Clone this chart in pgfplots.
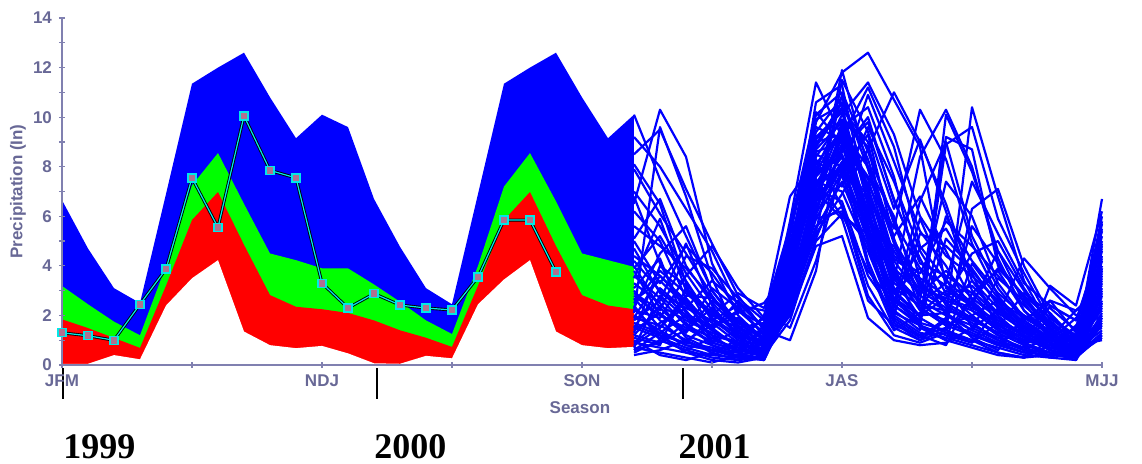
\documentclass[border=0pt]{standalone}
\usepackage{fontspec}
\setmainfont{Liberation Serif}
\newfontfamily\chartfont{Liberation Sans}
\usepackage{pgfplots}
\usepackage{pgfplotstable}
\pgfplotsset{compat=1.18}

\definecolor{axisgray}{RGB}{128,128,176}
\definecolor{labelgray}{RGB}{104,104,150}
\definecolor{tracecyan}{RGB}{0,232,232}
\definecolor{markfill}{RGB}{176,112,144}

% climatology bands, one row per month (0 = JFM 1999)
\pgfplotstableread{
m  lower red  green blue
0  0.05  1.84 3.19  6.65
1  0.05  1.49 2.45  4.70
2  0.40  1.09 1.75  3.10
3  0.23  0.69 1.20  2.50
4  2.40  3.20 4.00  6.90
5  3.50  5.85 7.25  11.35
6  4.23  6.98 8.55  12.00
7  1.35  4.85 6.50  12.60
8  0.80  2.82 4.50  10.80
9  0.68  2.35 4.23  9.15
10 0.77  2.25 3.90  10.10
11 0.47  2.10 3.90  9.60
12 0.07  1.80 3.25  6.70
13 0.05  1.40 2.55  4.77
14 0.37  1.10 1.80  3.10
15 0.27  0.73 1.25  2.45
16 2.45  3.20 4.00  6.90
17 3.45  5.85 7.20  11.35
18 4.23  6.98 8.55  12.00
19 1.35  4.80 6.60  12.60
20 0.80  2.82 4.50  10.80
21 0.68  2.40 4.23  9.15
22 0.73  2.25 3.96  10.10
}\bands

% observed seasonal totals
\pgfplotstableread{
m  obs
0  1.30
1  1.18
2  1.00
3  2.45
4  3.87
5  7.55
6  5.55
7  10.05
8  7.85
9  7.55
10 3.30
11 2.30
12 2.88
13 2.42
14 2.30
15 2.22
16 3.55
17 5.85
18 5.85
19 3.75
}\observed

% ensemble traces, one row per member, months 22..40
\pgfplotstableread{
m   22   23   24   25   26   27   28   29   30   31   32   33   34   35   36   37   38   39   40
t1  10.1 7.5  5.2  3.0  1.6  0.8  3.5  7.8  9.5  6.2  3.1  2.4  2.2  1.9  1.2  0.6  0.5  0.4  2.5
t2  6.5  10.3 8.4  4.1  2.0  1.0  4.2  8.9  10.6 8.3  5.0  3.2  2.6  2.2  1.6  1.0  0.8  0.6  3.0
t3  2.1  9.6  6.8  3.5  1.2  0.5  2.8  6.4  8.1  5.3  2.7  1.8  5.1  3.9  2.4  1.5  0.9  0.5  1.8
t4  1.2  2.4  1.8  1.3  0.9  0.6  4.4  9.8  11.8 12.6 10.7 8.8  3.1  2.5  1.7  1.2  0.7  0.5  4.2
t5  0.8  1.5  2.6  1.0  0.7  0.4  3.1  7.2  8.9  6.0  2.2  1.4  10.1 7.8  4.6  2.5  1.2  0.7  6.7
t6  3.3  2.5  1.1  0.6  0.3  0.3  2.2  5.5  7.4  4.8  1.8  1.1  1.9  10.4 6.8  3.4  1.5  0.3  1.2
t7  2.5  3.8  2.9  2.0  1.5  0.9  5.8  11.4 9.2  7.1  4.3  3.5  2.8  3.2  2.1  1.4  1.0  0.8  5.5
t8  4.2  3.0  2.0  1.2  0.5  0.2  2.6  6.0  11.5 9.4  6.3  9.1  6.2  3.0  2.0  1.1  0.6  0.3  2.0
t9  1.5  1.1  0.7  0.4  0.3  0.5  3.0  6.8  7.9  4.0  1.5  1.0  1.4  2.6  3.9  2.8  1.9  1.2  3.4
t10 5.6  4.8  3.9  2.7  1.8  1.1  4.6  8.4  9.9  7.2  3.6  2.3  1.6  1.2  0.9  0.7  0.4  0.3  1.6
t11 0.6  0.9  1.4  2.3  1.2  0.8  3.8  7.6  8.7  9.8  6.7  4.1  3.6  2.9  1.8  1.3  0.9  0.6  4.6
t12 2.8  2.0  1.5  0.9  0.6  0.4  2.1  5.0  6.1  3.8  2.5  6.6  9.0  5.2  3.1  1.8  1.1  0.5  2.4
t13 7.9  6.1  4.5  2.8  1.4  0.7  3.3  7.0  8.4  5.6  2.9  2.0  2.7  4.5  5.0  3.1  1.6  0.9  3.9
t14 1.9  1.6  1.0  0.5  0.2  0.3  2.4  5.9  7.8  10.9 8.2  5.4  4.0  2.2  1.4  0.9  0.5  0.4  2.9
t15 3.9  5.2  3.4  1.8  1.1  0.6  4.9  9.2  10.2 6.6  3.3  2.6  2.0  1.6  1.1  0.7  2.4  1.8  5.0
t16 0.9  0.7  0.5  0.2  0.1  0.3  2.7  6.2  8.8  7.5  4.2  2.8  7.4  6.0  3.3  1.9  1.3  0.6  1.4
t17 4.7  2.9  2.3  3.4  2.5  1.5  5.2  10.1 11.0 8.6  5.8  3.9  3.2  2.4  1.5  2.9  2.1  1.0  3.1
t18 2.3  4.5  5.6  3.0  1.7  1.0  3.6  7.4  7.0  4.6  2.0  1.3  1.1  0.8  0.5  0.3  0.8  1.1  2.2
t19 1.4  2.1  1.2  0.8  0.5  0.7  4.0  8.1  9.5  5.9  3.4  8.4  10.3 8.0  4.3  2.2  1.1  0.7  3.7
t20 6.2  5.0  2.7  1.5  2.2  1.3  2.9  6.6  8.2  6.8  4.6  3.0  2.3  1.7  1.0  0.6  0.3  0.2  1.9
t21 3.0  1.8  0.9  1.9  1.0  0.5  3.4  7.9  10.1 11.4 9.3  6.0  4.4  3.6  2.6  1.7  1.0  0.6  5.8
t22 1.1  0.8  3.1  2.1  1.3  0.9  2.5  5.6  6.4  2.8  1.2  0.9  1.3  1.0  0.7  0.4  0.3  0.8  1.0
t23 9.2  8.0  6.3  4.6  2.4  1.2  4.1  8.6  9.0  5.1  2.6  1.7  8.9  9.6  5.9  3.7  1.8  0.9  4.3
t24 2.6  3.4  2.4  1.4  0.8  0.3  3.2  6.5  11.9 8.0  4.9  3.3  2.5  1.9  1.3  0.8  0.5  0.2  2.6
t25 0.7  0.5  0.3  0.1  0.4  0.6  2.0  4.8  5.2  1.9  1.0  0.8  0.9  1.5  2.2  1.4  0.6  0.4  1.3
t26 5.1  6.7  4.0  2.5  1.5  1.7  5.5  9.4  10.8 7.9  4.4  3.7  5.8  4.8  3.6  2.4  1.5  0.8  4.9
t27 3.6  2.7  1.6  1.1  0.6  0.4  3.7  8.0  7.2  9.6  7.4  4.6  2.9  2.0  1.2  1.0  0.7  0.5  3.3
t28 1.7  1.3  2.0  1.6  1.9  1.1  4.3  10.6 11.3 6.4  2.4  1.6  1.0  0.7  0.4  0.3  0.4  0.3  2.1
t29 8.5  9.5  7.1  4.9  2.8  1.4  3.9  7.7  8.5  6.1  3.8  2.2  1.8  5.6  4.1  2.7  1.6  1.2  4.0
t30 2.0  1.4  0.8  0.6  0.4  0.2  2.3  5.3  6.9  8.7  11.0 9.0  6.5  3.4  2.3  1.3  0.8  0.4  1.7
t31 4.4  3.6  2.5  1.7  0.9  0.5  3.0  7.1  9.7  6.9  3.0  2.0  2.1  1.4  0.9  0.5  3.2  2.4  6.2
t32 1.3  4.0  3.2  1.4  0.8  0.6  3.5  8.8  10.4 6.5  3.9  2.9  3.8  2.7  1.9  1.2  0.6  0.3  2.8
t33 0.5  1.0  0.6  0.3  0.2  0.4  2.6  6.1  8.0  5.0  2.0  5.3  4.8  3.8  2.5  1.6  1.0  0.7  3.5
t34 7.0  5.6  3.7  2.2  1.3  0.8  4.5  9.0  9.3  5.7  1.9  1.2  1.5  6.3  7.1  4.0  2.0  1.1  5.2
t35 2.9  2.2  4.4  3.9  2.7  1.8  4.8  8.2  7.6  5.2  3.7  2.5  1.7  1.3  0.8  0.5  0.4  0.6  2.3
t36 1.6  1.2  0.9  0.7  0.3  0.2  2.9  7.3  9.1  7.6  5.5  10.3 8.3  4.9  2.8  1.5  0.9  0.5  3.6
t37 0.9  1.7  2.3  1.8  2.4  2.2  1.5  4.2  7.9  9.3  5.1  2.3  1.6  2.0  2.6  1.9  2.3  1.4  2.0
t38 1.8  2.6  4.9  2.4  1.1  1.9  6.8  8.3  6.4  3.2  1.4  2.1  3.0  2.4  4.6  3.0  1.7  1.0  1.5
t39 0.4  0.6  1.0  1.6  2.1  2.5  3.9  5.9  6.2  4.9  2.9  4.7  5.5  3.7  1.5  0.9  2.6  2.2  3.1
t40 3.1  4.3  1.6  0.9  0.6  1.4  1.0  3.8  9.6  10.4 7.6  3.4  2.1  1.1  0.6  2.0  1.4  0.9  4.4
t41 5.0  3.3  4.8  3.7  2.2  1.6  5.0  7.0  5.9  2.6  1.6  1.2  0.8  2.9  3.8  2.2  1.3  0.8  3.9
t42 1.0  0.4  0.2  0.5  1.0  0.8  2.0  6.9  9.4  8.0  6.0  2.5  3.3  7.4  5.3  3.3  2.4  1.8  4.7
t43 2.2  1.9  3.6  4.8  3.1  1.9  3.2  6.3  8.6  10.0 6.6  4.3  2.4  1.8  1.3  1.6  0.7  0.4  1.1
t44 6.8  4.1  2.1  1.4  2.6  1.5  4.0  9.1  10.3 9.0  3.5  1.9  1.3  0.9  2.3  1.5  0.9  1.5  5.4
t45 2.4  1.0  0.6  1.1  0.6  0.9  5.3  7.5  6.0  5.3  4.8  2.8  2.2  3.4  2.0  4.3  3.1  2.0  2.7
t46 1.5  3.1  2.2  0.9  1.4  1.3  3.6  8.5  8.0  6.3  2.3  5.9  3.5  1.5  1.0  0.6  1.2  0.9  6.0
t47 4.0  2.3  1.3  2.6  1.8  0.7  2.7  6.7  10.9 7.0  4.0  1.5  1.0  4.1  2.7  1.7  1.1  2.2  3.2
t48 0.7  2.8  1.9  1.2  0.9  0.4  1.8  5.1  7.7  6.7  3.0  3.9  2.0  1.4  3.5  2.6  1.5  0.8  1.9
t49 3.5  5.9  3.0  2.0  2.9  2.3  4.7  9.6  9.1  7.3  5.2  6.8  4.6  2.6  1.6  1.1  0.8  0.5  2.5
t50 1.2  0.9  1.7  0.8  0.3  0.9  3.4  7.8  8.4  4.2  1.7  1.0  1.8  1.2  0.8  1.8  2.6  1.3  4.8
t51 2.7  1.5  2.8  2.7  1.6  0.5  3.0  5.4  9.9  8.8  5.7  3.1  2.7  2.3  1.8  1.2  0.6  1.6  3.0
t52 8.1  6.5  3.3  1.9  1.2  1.0  4.3  9.9  10.5 5.0  2.7  2.0  6.0  4.2  2.9  2.0  1.2  0.7  3.8
t53 0.6  1.3  0.8  0.6  0.5  1.6  4.6  7.1  6.6  3.6  2.1  1.6  1.2  0.9  1.7  0.8  0.5  0.3  1.2
t54 3.8  2.0  1.4  3.1  2.3  1.2  2.4  6.8  9.2  11.2 8.8  4.8  3.4  2.5  1.4  0.9  1.9  1.1  2.8
t55 1.9  3.6  2.6  1.5  0.7  0.3  3.3  8.7  9.8  6.0  3.6  2.6  9.2  8.7  4.0  2.8  1.4  0.6  5.7
t56 2.3  1.2  0.5  0.4  0.8  2.0  5.6  10.2 8.9  5.4  2.4  1.7  1.4  1.0  0.5  0.3  1.0  1.9  2.2
}\ensemble
\pgfplotstabletranspose[colnames from=m]\ensemblet{\ensemble}

\begin{document}
\begin{tikzpicture}
  \begin{axis}[
    scale only axis,
    width=520pt,
    height=173.5pt,
    xmin=0, xmax=40,
    ymin=0, ymax=14,
    axis x line*=bottom,
    axis y line*=left,
    axis on top,
    axis line style={axisgray, line width=0.8pt},
    xtick={0,5,...,40},
    xticklabels={JFM,,NDJ,,SON,,JAS,,MJJ},
    ytick={0,2,...,14},
    minor ytick={1,3,...,13},
    tick align=center,
    major tick length=3pt,
    minor tick length=3pt,
    tick style={axisgray, line width=0.6pt},
    /pgf/number format/assume math mode=true,
    ticklabel style={labelgray, font=\chartfont\bfseries\fontsize{8.5}{10}\selectfont},
    xlabel={Season},
    ylabel={Precipitation (In)},
    label style={labelgray, font=\chartfont\bfseries\fontsize{8.5}{10}\selectfont},
    xlabel style={at={(axis description cs:0.498,-0.124)}, anchor=center},
    ylabel style={at={(axis description cs:-0.0423,0.5)}, anchor=center},
    clip=false
  ]
    % stacked bands, painted from the top down
    \addplot[fill=blue, draw=none] table[x=m, y=blue]{\bands} \closedcycle;
    \addplot[fill={rgb,255:red,0;green,255;blue,0}, draw=none] table[x=m, y=green]{\bands} \closedcycle;
    \addplot[fill=red, draw=none] table[x=m, y=red]{\bands} \closedcycle;
    \addplot[fill=white, draw=none] table[x=m, y=lower]{\bands} \closedcycle;

    % observed line with its dark shadow
    \addplot[black, line width=1.5pt] table[x=m, y=obs]{\observed};
    \addplot[tracecyan, line width=0.6pt, mark=square*, mark size=2pt,
      mark options={draw=tracecyan, fill=markfill, line width=0.7pt}]
      table[x=m, y=obs]{\observed};

    % ensemble members
    \pgfplotsinvokeforeach{1,...,56}{
      \addplot[blue, line width=1.1pt, line join=round] table[x=colnames, y=t#1]{\ensemblet};
    }

    % year markers
    \draw[black, line width=1pt] ([yshift=-1.7pt]axis cs:0.04,0) -- ([yshift=-17pt]axis cs:0.04,0);
    \draw[black, line width=1pt] ([yshift=-1.7pt]axis cs:12.1,0) -- ([yshift=-17pt]axis cs:12.1,0);
    \draw[black, line width=1pt] ([yshift=-1.7pt]axis cs:23.9,0) -- ([yshift=-17pt]axis cs:23.9,0);
    \node[anchor=base west, inner sep=0, font=\bfseries\fontsize{18}{20}\selectfont] at ([yshift=-46.5pt]axis cs:0.04,0) {1999};
    \node[anchor=base west, inner sep=0, font=\bfseries\fontsize{18}{20}\selectfont] at ([yshift=-46.5pt]axis cs:12.0,0) {2000};
    \node[anchor=base west, inner sep=0, font=\bfseries\fontsize{18}{20}\selectfont] at ([yshift=-46.5pt]axis cs:23.7,0) {2001};

    \coordinate (O) at (axis cs:0,0);
  \end{axis}
  \path (O) ++(-31pt,-49pt) rectangle ++(571pt,231.5pt);
\end{tikzpicture}
\end{document}
